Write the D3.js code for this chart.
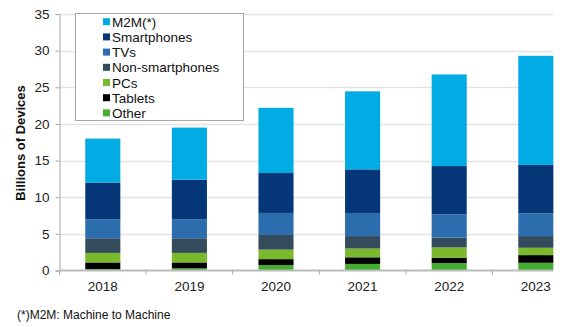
<!DOCTYPE html>
<html>
<head>
<meta charset="utf-8">
<script src="https://cdn.jsdelivr.net/npm/d3@7"></script>
<style>
  body { margin: 0; background: #fff; }
  text { font-family: Arial, "Liberation Sans", sans-serif; }
</style>
</head>
<body>
<script>
var w = 565
var h = 327

// data, billions of devices, bottom to top of each bar
var years = ["2018", "2019", "2020", "2021", "2022", "2023"]
var series = ["Other", "Tablets", "PCs", "Non-smartphones", "TVs", "Smartphones", "M2M(*)"]
var other = [0.2, 0.3, 0.75, 0.9, 1.0, 1.05]
var tablets = [0.9, 0.8, 0.8, 0.9, 0.75, 1.05]
var pcs = [1.3, 1.3, 1.3, 1.2, 1.4, 1.0]
var nonSmart = [2.0, 2.0, 2.0, 1.7, 1.35, 1.6]
var tvs = [2.6, 2.6, 3.0, 3.15, 3.15, 3.1]
var smartphones = [5.0, 5.4, 5.45, 5.95, 6.6, 6.6]
var m2m = [6.0, 7.1, 8.9, 10.65, 12.5, 14.9]
var yTicks = [0, 5, 10, 15, 20, 25, 30, 35]

var colors = {
  "Other": "#45ad32",
  "Tablets": "#000000",
  "PCs": "#7ab82c",
  "Non-smartphones": "#344b5b",
  "TVs": "#2c6dae",
  "Smartphones": "#053778",
  "M2M(*)": "#00ace3"
}

var table = years.map(function(y, i) {
  return {
    year: y,
    "Other": other[i],
    "Tablets": tablets[i],
    "PCs": pcs[i],
    "Non-smartphones": nonSmart[i],
    "TVs": tvs[i],
    "Smartphones": smartphones[i],
    "M2M(*)": m2m[i]
  }
})

var svg = d3.select("body")
            .append("svg")
            .attr("width", w)
            .attr("height", h)

var left = 59.5
var right = 553 // the picture cuts the plot off here
var x = d3.scaleBand()
          .domain(years)
          .range([left, left + 6 * 86.6])
          .paddingInner(0.595)
          .paddingOuter(0.2975)

var y = d3.scaleLinear()
          .domain([0, 35])
          .range([270.5, 14])

// gridlines
svg.append("g").selectAll("line")
  .data(yTicks.slice(1))
  .enter().append("line")
  .attr("x1", left)
  .attr("x2", right)
  .attr("y1", function(d) { return Math.round(y(d)) + 0.5 })
  .attr("y2", function(d) { return Math.round(y(d)) + 0.5 })
  .attr("stroke", "#e3e3e3")
  .attr("stroke-width", 1.5)

var stack = d3.stack().keys(series)(table)

svg.append("g").selectAll("g")
  .data(stack)
  .enter().append("g")
  .attr("fill", function(d) { return colors[d.key] })
  .selectAll("rect")
  .data(function(d) { return d })
  .enter().append("rect")
  .attr("x", function(d) { return x(d.data.year) })
  .attr("width", x.bandwidth())
  .attr("y", function(d) { return y(d[1]) })
  .attr("height", function(d) { return y(d[0]) - y(d[1]) })

// y axis
var yAxis = svg.append("g")
  .attr("transform", "translate(" + left + ",0)")
  .call(d3.axisLeft(y).tickValues(yTicks).tickSize(4).tickPadding(6))
yAxis.select(".domain").attr("stroke", "#a6a6a6")
yAxis.selectAll(".tick line").attr("stroke", "#a6a6a6")
yAxis.selectAll(".tick text")
  .attr("font-size", "13.5px")
  .attr("font-family", "Arial, 'Liberation Sans', sans-serif")
  .attr("fill", "#222")

// x axis
var xAxis = svg.append("g")
  .attr("transform", "translate(0," + y(0) + ")")
xAxis.append("line")
  .attr("x1", left)
  .attr("x2", right)
  .attr("stroke", "#bbbbbb")
  .attr("stroke-width", 2)
xAxis.selectAll(".sep")
  .data(years)
  .enter().append("line")
  .attr("class", "sep")
  .attr("x1", function(d) { return x(d) - x.step() * x.paddingOuter() })
  .attr("x2", function(d) { return x(d) - x.step() * x.paddingOuter() })
  .attr("y1", 0)
  .attr("y2", 4)
  .attr("stroke", "#a6a6a6")
xAxis.selectAll(".lbl")
  .data(years)
  .enter().append("text")
  .attr("class", "lbl")
  .text(function(d) { return d })
  .attr("x", function(d) { return x(d) + x.bandwidth() / 2 })
  .attr("y", 20)
  .attr("text-anchor", "middle")
  .attr("font-size", "13.5px")
  .attr("fill", "#222")

// axis title
svg.append("text")
  .text("Billions of Devices")
  .attr("transform", "translate(25,143) rotate(-90)")
  .attr("text-anchor", "middle")
  .attr("font-size", "13px")
  .attr("font-weight", "bold")
  .attr("fill", "#111")

// legend, top entry first
var legend = svg.append("g")
legend.append("rect")
  .attr("x", 75.5)
  .attr("y", 13.5)
  .attr("width", 168)
  .attr("height", 107)
  .attr("fill", "#fff")
  .attr("stroke", "#a6a6a6")

var items = legend.selectAll(".item")
  .data(series.slice().reverse())
  .enter().append("g")
  .attr("class", "item")
  .attr("transform", function(d, i) { return "translate(103," + (21.7 + i * 15.2) + ")" })
items.append("rect")
  .attr("x", 0)
  .attr("y", -3.5)
  .attr("width", 7)
  .attr("height", 7)
  .attr("fill", function(d) { return colors[d] })
items.append("text")
  .text(function(d) { return d })
  .attr("x", 9)
  .attr("y", 5)
  .attr("font-size", "13.5px")
  .attr("fill", "#111")

// footnote
svg.append("text")
  .text("(*)M2M: Machine to Machine")
  .attr("x", 17)
  .attr("y", 319)
  .attr("font-size", "12px")
  .attr("fill", "#111")
</script>
</body>
</html>
